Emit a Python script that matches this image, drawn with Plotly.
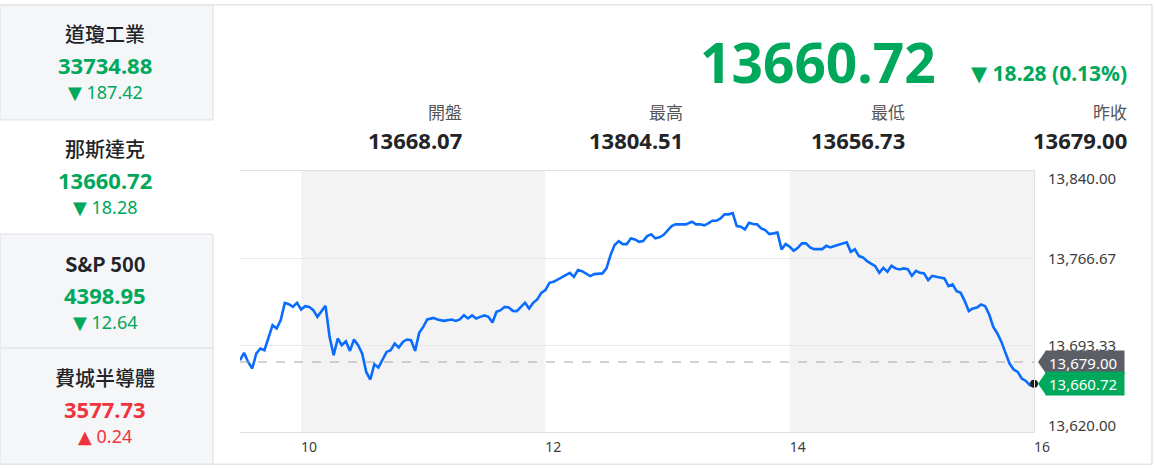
import plotly.graph_objects as go

# ---------------- data ----------------
index_names = ["道瓊工業", "那斯達克", "S&P 500", "費城半導體"]
index_values = ["33734.88", "13660.72", "4398.95", "3577.73"]
index_changes = ["187.42", "18.28", "12.64", "0.24"]
index_up = [False, False, False, True]

last_price = 13660.72
change_abs = "18.28"
change_pct = "0.13%"
stat_labels = ["開盤", "最高", "最低", "昨收"]
stat_values = ["13668.07", "13804.51", "13656.73", "13679.00"]
prev_close = 13679.00

minutes_after_open = [
    0, 2, 4, 6, 8, 10, 12, 14, 16, 18, 20, 22, 24, 26, 28, 30, 32, 34, 36, 38,
    40, 42, 44, 46, 48, 50, 52, 54, 56, 58, 60, 62, 64, 66, 68, 70, 72, 74, 76, 78,
    80, 82, 84, 86, 88, 90, 92, 95, 97, 100, 102, 104, 106, 108, 110, 112, 114, 116, 118, 120,
    122, 124, 126, 128, 130, 132, 134, 136, 138, 140, 142, 144, 146, 148, 150, 152, 154, 156, 158, 160,
    162, 164, 166, 168, 170, 172, 174, 176, 178, 180, 182, 184, 186, 188, 190, 192, 194, 196, 198, 200,
    202, 204, 206, 208, 210, 212, 214, 217, 219, 222, 224, 226, 228, 230, 232, 234, 236, 238, 240, 242,
    244, 246, 248, 250, 252, 254, 256, 258, 260, 262, 264, 266, 268, 270, 272, 274, 276, 278, 280, 282,
    284, 286, 288, 290, 292, 294, 296, 298, 300, 302, 304, 306, 308, 310, 312, 314, 316, 318, 320, 322,
    324, 326, 328, 330, 332, 334, 336, 338, 340, 342, 344, 346, 348, 350, 352, 354, 356, 358, 360, 362,
    364, 366, 368, 370, 372, 374, 376, 378, 380, 382, 384, 386, 388, 390,
]
prices = [
    13680.51, 13686.67, 13679.07, 13673.50, 13686.16, 13690.38, 13688.95, 13700.17, 13710.04, 13707.26,
    13714.26, 13728.86, 13727.77, 13725.49, 13728.86, 13723.29, 13726.08, 13725.49, 13722.70, 13717.05,
    13721.27, 13726.33, 13700.17, 13684.73, 13698.82, 13693.17, 13696.54, 13688.36, 13697.98, 13693.17,
    13686.16, 13670.63, 13664.22, 13677.13, 13674.35, 13680.51, 13687.51, 13688.95, 13694.60, 13691.23,
    13695.95, 13697.98, 13697.39, 13688.36, 13703.55, 13708.61, 13714.85, 13716.20, 13714.85, 13713.67,
    13714.26, 13714.85, 13713.67, 13714.85, 13718.48, 13715.70, 13718.23, 13715.70, 13717.05, 13718.23,
    13717.05, 13712.32, 13721.27, 13722.70, 13725.49, 13724.98, 13722.11, 13721.86, 13725.49, 13728.86,
    13724.14, 13728.86, 13731.73, 13737.30, 13739.58, 13745.74, 13746.59, 13748.61, 13750.30, 13752.24,
    13754.18, 13750.80, 13756.46, 13755.61, 13753.67, 13751.39, 13753.08, 13753.08, 13753.67, 13757.89,
    13769.12, 13777.56, 13780.93, 13778.40, 13778.40, 13783.21, 13782.37, 13780.34, 13780.93, 13785.15,
    13786.59, 13783.21, 13784.05, 13786.00, 13790.21, 13793.59, 13795.03, 13795.03, 13795.03, 13797.22,
    13795.03, 13795.03, 13794.18, 13795.87, 13798.06, 13798.06, 13800.09, 13803.46, 13803.46, 13804.51,
    13793.59, 13793.00, 13790.81, 13796.38, 13795.28, 13795.03, 13791.65, 13790.21, 13786.84, 13787.43,
    13788.10, 13773.93, 13778.40, 13776.12, 13772.75, 13775.28, 13778.99, 13778.99, 13775.61, 13774.18,
    13774.18, 13774.18, 13776.97, 13775.61, 13776.71, 13777.56, 13778.99, 13779.83, 13771.90, 13773.93,
    13768.27, 13767.18, 13764.05, 13762.11, 13759.83, 13754.18, 13758.40, 13755.02, 13760.09, 13757.89,
    13757.05, 13757.89, 13757.30, 13751.65, 13755.87, 13754.18, 13753.67, 13748.02, 13751.65, 13750.80,
    13750.30, 13749.45, 13742.96, 13744.39, 13738.74, 13737.30, 13730.30, 13721.86, 13724.14, 13724.98,
    13727.51, 13726.08, 13719.07, 13708.61, 13703.04, 13695.95, 13686.67, 13677.72, 13672.66, 13670.63,
    13665.06, 13663.04, 13659.41, 13660.72,
]
x_ticks = [10, 12, 14, 16]
x_tick_labels = ["10", "12", "14", "16"]
y_ticks = [13620.00, 13693.33, 13766.67, 13840.00]
shaded_hours = [(10, 12), (14, 16)]

# ---------------- geometry / style ----------------
W, H = 1155, 468
ML, MR, MT, MB = 240, 121, 171, 36.3
PW, PH = W - ML - MR, H - MT - MB

GREEN = "#00a85b"
RED = "#f0343f"
DARK = "#222428"
GRAY_TXT = "#555555"
BORDER = "#e3e5e8"
CELL_BG = "#f5f6f8"
LATIN = "Noto Sans, DejaVu Sans, sans-serif"
CJK = "Noto Sans CJK TC, Noto Sans, sans-serif"


def px(x):
    return (x - ML) / PW


def py(y):
    return (H - MB - y) / PH


def label(x, y, text, font, xanchor="center", yanchor="middle", **kw):
    return dict(xref="paper", yref="paper", x=px(x), y=py(y), text=text, showarrow=False,
                xanchor=xanchor, yanchor=yanchor, borderpad=0, font=font, **kw)


hours = [9.5 + m / 60 for m in minutes_after_open]

fig = go.Figure()
fig.add_trace(go.Scatter(x=hours, y=prices, mode="lines",
                         line=dict(color="#0a6cff", width=2.6), hoverinfo="skip",
                         showlegend=False))
fig.add_trace(go.Scatter(x=hours[-1:], y=prices[-1:], mode="markers",
                         marker=dict(color="#1f1f1f", size=8), cliponaxis=False,
                         hoverinfo="skip", showlegend=False))

shapes = []
annotations = []

# shaded hour bands
for a, b in shaded_hours:
    shapes.append(dict(type="rect", xref="x", yref="paper", x0=a, x1=b, y0=0, y1=1,
                       fillcolor="#f3f3f3", line=dict(width=0), layer="below"))

# previous close dashed line
shapes.append(dict(type="line", xref="paper", yref="y", x0=0, x1=1, y0=prev_close, y1=prev_close,
                   line=dict(color="#a8a8a8", width=1.2, dash="dash")))

# outer frame
shapes.append(dict(type="line", xref="paper", yref="paper", x0=px(0), x1=px(1152), y0=py(5), y1=py(5),
                   line=dict(color=BORDER, width=1.5)))
shapes.append(dict(type="line", xref="paper", yref="paper", x0=px(0), x1=px(1152), y0=py(464), y1=py(464),
                   line=dict(color=BORDER, width=1.5)))
shapes.append(dict(type="line", xref="paper", yref="paper", x0=px(1152), x1=px(1152), y0=py(5), y1=py(464),
                   line=dict(color=BORDER, width=1.5)))

# left panel cells
cells = [(5, 120), (120, 234), (234, 348), (348, 464)]
selected = 1
for i, (y0, y1) in enumerate(cells):
    if i != selected:
        shapes.append(dict(type="rect", xref="paper", yref="paper", x0=px(0), x1=px(213),
                           y0=py(y1), y1=py(y0), fillcolor=CELL_BG,
                           line=dict(color=BORDER, width=1.3), layer="below"))

title_y = [37, 152, 267, 381]
for i in range(4):
    col = RED if index_up[i] else GREEN
    yt = title_y[i]
    annotations.append(label(105, yt + 12, index_names[i],
                             dict(family=CJK, size=20, color=DARK,
                                  weight=(700 if index_names[i].isascii() else 500)),
                             yanchor="bottom"))
    annotations.append(label(105, yt + 12, index_values[i],
                             dict(family=LATIN, size=22, color=col, weight="bold"),
                             yanchor="top"))
    arrow = "▲" if index_up[i] else "▼"
    annotations.append(label(105, yt + 42, f"{arrow} {index_changes[i]}",
                             dict(family=LATIN, size=18, color=col), yanchor="top"))

# header
annotations.append(label(818, 62, f"{last_price:.2f}",
                         dict(family=LATIN, size=55, color=GREEN, weight="bold")))
annotations.append(label(1128, 73, f"▼ {change_abs} ({change_pct})",
                         dict(family=LATIN, size=21, color=GREEN, weight="bold"), xanchor="right"))
stat_right = [462, 683, 905, 1127]
for lab, val, xr in zip(stat_labels, stat_values, stat_right):
    annotations.append(label(xr + 1, 125, lab, dict(family=CJK, size=17, color=GRAY_TXT),
                             xanchor="right", yanchor="bottom"))
    annotations.append(label(xr + 1, 124.5, val, dict(family=LATIN, size=22, color=DARK, weight="bold"),
                             xanchor="right", yanchor="top"))

# y tick labels (top/bottom pushed inside the plot band)
for v in y_ticks:
    if v == max(y_ticks):
        ya, ys = "top", 5
    elif v == min(y_ticks):
        ya, ys = "bottom", -5
    else:
        ya, ys = "middle", 0
    annotations.append(dict(xref="paper", yref="y", x=1, y=v, xshift=12, yshift=ys,
                            text=f"{v:,.2f}", showarrow=False, xanchor="left", yanchor=ya,
                            font=dict(family=LATIN, size=15, color="#3c3c3c")))

# price tags
tags = [(prev_close, "#5b5f65"), (prices[-1], GREEN)]
for v, c in tags:
    shapes.append(dict(type="path", xref="paper", yref="y", xsizemode="pixel", ysizemode="pixel",
                       xanchor=1, yanchor=v,
                       path="M 4,0 L 12,11.5 L 12,-11.5 Z",
                       fillcolor=c, line=dict(width=0), layer="above"))
    annotations.append(dict(xref="paper", yref="y", x=1, y=v, xshift=11, text=f"{v:,.2f}",
                            showarrow=False, xanchor="left", yanchor="middle",
                            bgcolor=c, borderpad=3, width=72, height=17, align="left",
                            font=dict(family=LATIN, size=15, color="white")))

fig.update_layout(
    width=W, height=H,
    margin=dict(l=ML, r=MR, t=MT, b=MB, pad=0),
    paper_bgcolor="white", plot_bgcolor="white",
    showlegend=False,
    shapes=shapes, annotations=annotations,
    xaxis=dict(range=[9.5, 16], tickvals=x_ticks, ticktext=x_tick_labels,
               showgrid=False, zeroline=False, showline=True, mirror=True,
               linecolor="#e0e0e0", linewidth=1.2, ticks="",
               ticklabelshift=8, ticklabelstandoff=2,
               tickfont=dict(family=LATIN, size=14, color="#3c3c3c"), fixedrange=True),
    yaxis=dict(range=[13620, 13840], tickvals=y_ticks, showticklabels=False,
               side="right", showgrid=True, gridcolor="#e8e8e8", gridwidth=1.2,
               zeroline=False, showline=True, linecolor="#e0e0e0", linewidth=1.2,
               ticks="", fixedrange=True),
)

fig.write_html("out.html", config={"displayModeBar": False},
               post_script="document.body.style.margin='0';document.body.style.overflow='hidden';")
